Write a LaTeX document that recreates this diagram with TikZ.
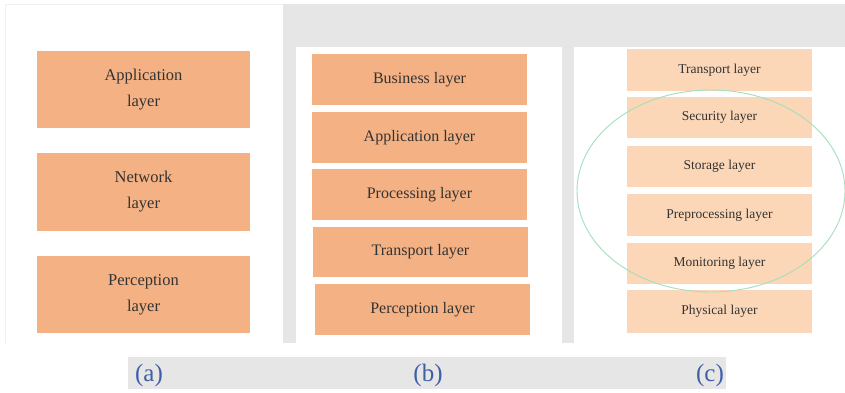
\documentclass[tikz,border=0pt]{standalone}
\usepackage{fontspec}
\setmainfont{Liberation Serif}
\usepackage{tikz}

\definecolor{layerorange}{HTML}{F4B183}
\definecolor{layerpeach}{HTML}{FCD7B7}
\definecolor{panelgrey}{HTML}{E6E6E6}
\definecolor{labelblue}{HTML}{3F5FA6}
\definecolor{ringgreen}{HTML}{A3DEBD}
\definecolor{textgrey}{HTML}{333333}

\tikzset{
    layerbig/.style={fill=layerorange, text=textgrey, align=center, inner sep=0pt,
        font=\fontsize{16.5}{26}\selectfont},
    layermid/.style={fill=layerorange, text=textgrey, inner sep=0pt, minimum width=215pt,
        minimum height=51pt, font=\fontsize{16}{18}\selectfont},
    layersmall/.style={fill=layerpeach, text=textgrey, inner sep=0pt, minimum width=185pt,
        font=\fontsize{13.5}{15}\selectfont},
    caption/.style={text=labelblue, font=\fontsize{25}{27}\selectfont}
}

\begin{document}
\begin{tikzpicture}[x=1pt, y=-1pt]
        \useasboundingbox (0, 0) rectangle (845, 393);

        % grey frame behind the panels
        \fill[panelgrey] (283, 4) rectangle (845, 47);
        \fill[panelgrey] (283, 4) rectangle (296, 343);
        \fill[panelgrey] (562, 47) rectangle (574, 343);
        \fill[panelgrey] (128, 357) rectangle (726, 389);
        \draw[panelgrey!60] (5, 343) -- (5, 4) -- (283, 4);

        % (a)
        \node[layerbig, minimum width=213pt, minimum height=77pt] (aApp) at (143.5, 89.5) {Application\\layer};
        \node[layerbig, minimum width=213pt, minimum height=78pt] (aNet) at (143.5, 192) {Network\\layer};
        \node[layerbig, minimum width=213pt, minimum height=77pt] (aPer) at (143.5, 294.5) {Perception\\layer};

        % (b)
        \node[layermid] (bBus) at (419.5, 79.5) {Business layer};
        \node[layermid] (bApp) at (419.5, 137.5) {Application layer};
        \node[layermid] (bPro) at (419.5, 194.5) {Processing layer};
        \node[layermid, minimum height=50pt] (bTra) at (420.5, 252) {Transport layer};
        \node[layermid] (bPer) at (422.5, 309.5) {Perception layer};

        % (c)
        \node[layersmall, minimum height=42pt] (cTra) at (719.5, 70) {Transport layer};
        \node[layersmall, minimum height=41pt] (cSec) at (719.5, 117.5) {Security layer};
        \node[layersmall, minimum height=41pt] (cSto) at (719.5, 166.5) {Storage layer};
        \node[layersmall, minimum height=42pt] (cPre) at (719.5, 215) {Preprocessing layer};
        \node[layersmall, minimum height=41pt] (cMon) at (719.5, 263.5) {Monitoring layer};
        \node[layersmall, minimum height=43pt] (cPhy) at (719.5, 311.5) {Physical layer};
        \draw[ringgreen, line width=0.9pt] (711, 191) ellipse [x radius=134, y radius=101];

        \node[caption] (capA) at (149, 375) {(a)};
        \node[caption] (capB) at (428, 375) {(b)};
        \node[caption] (capC) at (710, 375) {(c)};
\end{tikzpicture}
\end{document}
